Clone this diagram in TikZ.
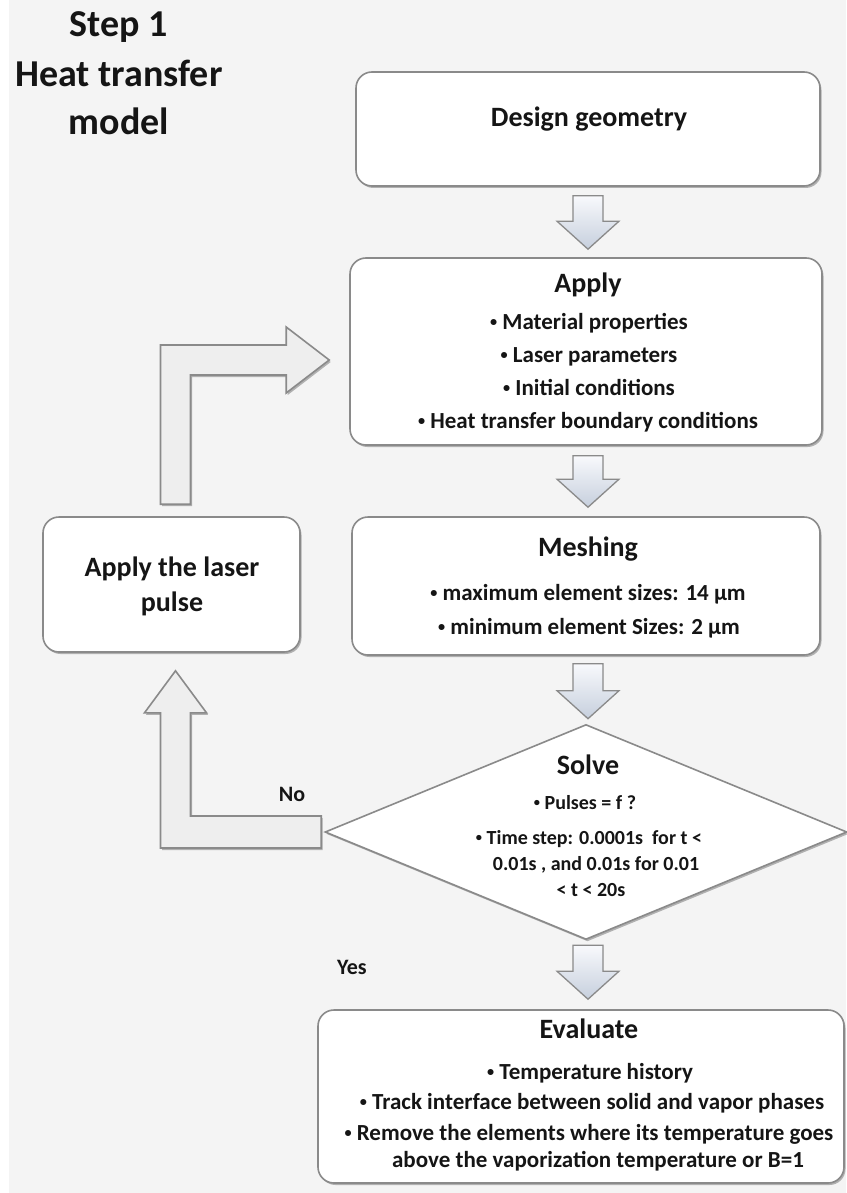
\documentclass[tikz,border=0pt]{standalone}
\usepackage{fontspec}
\setmainfont{Carlito}
\usetikzlibrary{calc,shapes.geometric,shadows}
\definecolor{bg}{HTML}{F4F4F4}
\definecolor{edge}{HTML}{8A8A8A}
\definecolor{arrtop}{HTML}{F8F9FC}
\definecolor{arrbot}{HTML}{C6CFDD}
\definecolor{lfill}{HTML}{EEEEEE}
\definecolor{txtc}{HTML}{151515}
\newcommand\fsz[1]{\fontsize{#1}{#1}\selectfont\bfseries}
\newcommand\bu{\raisebox{0.12em}{\scalebox{0.62}{•}}}
\newcommand\blockdown[2]{%
  \draw[downarr] let \p1=(#1), \p2=(#2) in
   (\x1-15pt,\y1) -- (\x1+15pt,\y1) -- (\x1+15pt,\y2+28pt) -- (\x1+31pt,\y2+28pt)
   -- (\x1,\y2) -- (\x1-31pt,\y2+28pt) -- (\x1-15pt,\y2+28pt) -- cycle;}
\begin{document}
\begin{tikzpicture}[x=1pt,y=-1pt,
  shad/.style={drop shadow={shadow xshift=1.5pt, shadow yshift=-2pt, fill=black, opacity=0.28}},
  box/.style={draw=edge, line width=1.6pt, fill=white, rounded corners=16pt, inner sep=0pt, shad},
  downarr/.style={draw=edge, line width=1.3pt, top color=arrtop, bottom color=arrbot, line join=miter},
  larr/.style={draw=edge, line width=1.6pt, fill=lfill, line join=miter, shad},
  ttl/.style={font=\fsz{28}, text=txtc, inner sep=0pt, anchor=base},
  bul/.style={font=\fsz{23}, text=txtc, inner sep=0pt, anchor=base},
  dbul/.style={font=\fsz{20}, text=txtc, inner sep=0pt, anchor=base},
  lab/.style={font=\fsz{22}, text=txtc, inner sep=0pt, anchor=base},
  big/.style={font=\fsz{38}, text=txtc, inner sep=0pt, anchor=base}]
\useasboundingbox (0,0) rectangle (846,1193);
\fill[white] (0,0) rectangle (9,1193);
\fill[bg] (9,0) rectangle (846,1193);

% title
\node[big] (t1) at (119,37) {Step 1};
\node[big] (t2) at (119,87) {Heat transfer};
\node[big] (t3) at (119,135) {model};

% boxes
\node[box, minimum width=464pt, minimum height=114pt] (design) at (588,129) {};
\node[box, minimum width=472pt, minimum height=187pt] (apply) at (586,351.5) {};
\node[box, minimum width=257pt, minimum height=135pt] (laser) at (171.5,584.5) {};
\node[box, minimum width=468pt, minimum height=138pt] (mesh) at (586,586) {};
\node[diamond, draw=edge, line width=1.6pt, fill=white, inner sep=0pt,
      minimum width=522pt, minimum height=215pt, shad] (solve) at (586,832) {};
\node[box, minimum width=526pt, minimum height=173pt] (eval) at (581,1096.5) {};

% texts
\node[ttl] (designT) at (589,127) {Design geometry};

\node[ttl] (applyT) at (588,292) {Apply};
\node[bul] (ap1) at (589,329) {\bu\ Material properties};
\node[bul] (ap2) at (589,362) {\bu\ Laser parameters};
\node[bul] (ap3) at (589,395) {\bu\ Initial conditions};
\node[bul] (ap4) at (588,428) {\bu\ Heat transfer boundary conditions};

\node[ttl] (laserT1) at (172,576) {Apply the laser};
\node[ttl] (laserT2) at (172,611) {pulse};

\node[ttl] (meshT) at (588,556) {Meshing};
\node[bul] (me1) at (588,600) {\bu\ maximum element sizes: 14 μm};
\node[bul] (me2) at (589,634) {\bu\ minimum element Sizes: 2 μm};

\node[ttl] (solveT) at (588,774) {Solve};
\node[dbul] (so1) at (585,809) {\bu\ Pulses = f ?};
\node[dbul] (so2) at (589,844) {\bu\ Time step: 0.0001s~ for t <};
\node[dbul] (so3) at (596,870) {0.01s , and 0.01s for 0.01};
\node[dbul] (so4) at (591,896) {< t < 20s};

\node[ttl] (evalT) at (589,1038) {Evaluate};
\node[bul] (ev1) at (590,1079) {\bu\ Temperature history};
\node[bul] (ev2) at (592,1109) {\bu\ Track interface between solid and vapor phases};
\node[bul] (ev3) at (589,1140) {\bu\ Remove the elements where its temperature goes};
\node[bul] (ev4) at (598,1167) {above the vaporization temperature or B=1};

\node[lab] (no) at (292,801) {No};
\node[lab] (yes) at (352,974) {Yes};

% block arrows down
\coordinate (a1s) at ($(design.south)+(0,9)$);
\coordinate (a1e) at ($(apply.north)+(2,-8)$);
\blockdown{a1s}{a1e}
\coordinate (a2s) at ($(apply.south)+(2,10)$);
\coordinate (a2e) at ($(mesh.north)+(2,-9)$);
\blockdown{a2s}{a2e}
\coordinate (a3s) at ($(mesh.south)+(2,8)$);
\coordinate (a3e) at ($(solve.north)+(2,-5)$);
\blockdown{a3s}{a3e}
\coordinate (a4s) at ($(solve.south)+(2,5)$);
\coordinate (a4e) at ($(eval.north)+(7,-10)$);
\blockdown{a4s}{a4e}

% L arrow: laser -> apply
\draw[larr] let \p1=(laser.north), \p2=(apply.west) in
  (\x1-11pt,\y1+12pt) -- (\x1-11pt,\y2+6.5pt) -- (\x2-63pt,\y2+6.5pt)
  -- (\x2-63pt,\y2+24.5pt) -- (\x2-20pt,\y2-8.5pt) -- (\x2-63pt,\y2-41.5pt)
  -- (\x2-63pt,\y2-23.5pt) -- (\x1+19pt,\y2-23.5pt) -- (\x1+19pt,\y1+12pt) -- cycle;

% L arrow: solve -> laser (No)
\draw[larr] let \p1=(solve.west), \p2=(laser.south) in
  (\x1-3pt,\y1+16pt) -- (\x1-3pt,\y1-16pt) -- (\x2-11pt,\y1-16pt)
  -- (\x2-11pt,\y2-60pt) -- (\x2-27pt,\y2-60pt) -- (\x2+4pt,\y2-18pt)
  -- (\x2+35pt,\y2-60pt) -- (\x2+19pt,\y2-60pt) -- (\x2+19pt,\y1+16pt) -- cycle;
\end{tikzpicture}
\end{document}
